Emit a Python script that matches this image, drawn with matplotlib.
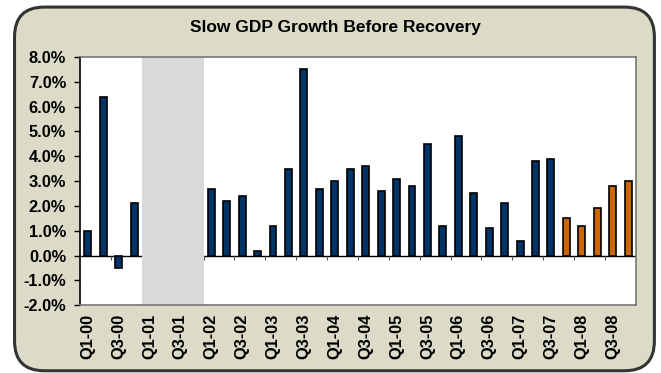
import numpy as np
import matplotlib.pyplot as plt
from matplotlib.patches import FancyBboxPatch

plt.rcParams['font.family'] = ['Liberation Sans', 'DejaVu Sans']
plt.rcParams['font.weight'] = 'bold'

quarters = ['Q%d-%02d' % (q, y) for y in range(0, 9) for q in range(1, 5)]
# real GDP growth, annualised %, recession quarters left blank
growth = [1.0, 6.4, -0.5, 2.1,
          np.nan, np.nan, np.nan, np.nan,
          2.7, 2.2, 2.4, 0.2,
          1.2, 3.5, 7.5, 2.7,
          3.0, 3.5, 3.6, 2.6,
          3.1, 2.8, 4.5, 1.2,
          4.8, 2.5, 1.1, 2.1,
          0.6, 3.8, 3.9, 1.5,
          1.2, 1.9, 2.8, 3.0]
forecast_from = 'Q4-07'
recession = ['Q1-01', 'Q4-01']

navy = '#003366'
orange = '#CC6600'

fig = plt.figure(figsize=(6.61, 3.73), dpi=100)

# rounded beige frame behind everything
frame = FancyBboxPatch((0.022, 0.006), 0.968, 0.975, transform=fig.transFigure,
                       boxstyle='round,pad=0,rounding_size=0.045',
                       facecolor='#DCDBC8', edgecolor='#333333', linewidth=2.2,
                       mutation_aspect=661 / 373, zorder=-1)
fig.patches.append(frame)

ax = fig.add_axes([0.121, 0.182, 0.841, 0.665])
ax.set_facecolor('white')

x = np.arange(len(quarters))
first_fc = quarters.index(forecast_from)
colors = [navy if i < first_fc else orange for i in x]
ax.bar(x, growth, width=0.45, color=colors, edgecolor='black', linewidth=1.2, zorder=3)

r0 = quarters.index(recession[0]) - 0.5
r1 = quarters.index(recession[1]) + 0.5
ax.axvspan(r0, r1, color='#D9D9D9', zorder=2.3, linewidth=0)

ax.set_xlim(-0.5, len(quarters) - 0.5)
ax.set_ylim(-2, 8)
ax.axhline(0, color='black', linewidth=1.0, zorder=2.1)
ax.vlines(np.arange(1.5, len(quarters), 2), -0.2, 0, color='#555555',
          linewidth=0.8, zorder=2.1)

ax.set_xticks(x[::2])
ax.set_xticklabels(quarters[::2], rotation=90, fontsize=11.8, fontweight='bold')
ax.tick_params(axis='x', length=0, pad=6)

yt = np.arange(-2, 9, 1)
ax.set_yticks(yt)
ax.set_yticklabels(['%.1f%%' % v for v in yt], fontsize=11.8, fontweight='bold')
ax.tick_params(axis='y', direction='out', length=4, width=1, color='black', pad=6)

for side in ['top', 'right', 'bottom']:
    ax.spines[side].set_color('#777777')
    ax.spines[side].set_linewidth(1.2)
ax.spines['left'].set_color('black')
ax.spines['left'].set_linewidth(1.2)

fig.text(0.508, 0.925, 'Slow GDP Growth Before Recovery', ha='center', va='center',
         fontsize=12.5, fontweight='bold')

fig.savefig('out.png', dpi=100)
